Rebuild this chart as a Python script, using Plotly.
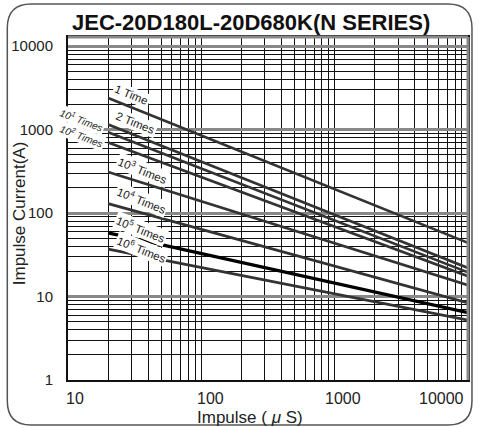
import math
import plotly.graph_objects as go

# ---------------- data ----------------
pulse_us = [20, 10000]                      # impulse width (µs), start / end of each curve
series_names = ["1 Time", "2 Times", "10<sup>1</sup> Times", "10<sup>2</sup> Times",
                "10<sup>3</sup> Times", "10<sup>4</sup> Times", "10<sup>5</sup> Times",
                "10<sup>6</sup> Times"]
i_1 = [2400, 44]
i_2 = [1150, 22]
i_1e1 = [930, 19.5]
i_1e2 = [700, 17.5]
i_1e3 = [310, 13.7]
i_1e4 = [130, 8.4]
i_1e5 = [58, 6.4]
i_1e6 = [37, 5.2]
series_values = [i_1, i_2, i_1e1, i_1e2, i_1e3, i_1e4, i_1e5, i_1e6]

# label anchor positions (data coords: µs, A)
label_x = [30, 32, 12.7, 12.7, 36.3, 35.6, 35.1, 35.6]
label_y = [2590, 1200, 1300, 836, 327, 143, 64, 37]

x_tick_vals = [10, 100, 1000, 10000]
x_tick_text = ["10", "100", "1000", "10000"]
y_tick_vals = [1, 10, 100, 1000, 10000]
y_tick_text = ["1", "10", "100", "1000", "10000"]

title_text = "JEC-20D180L-20D680K(N SERIES)"
x_title = "Impulse ( <i>μ</i> S)"
y_title = "Impulse Current(A)"

# ---------------- figure ----------------
W, H = 479, 428
ML, MR, MT, MB = 68, 9, 37, 48
PW, PH = W - ML - MR, H - MT - MB

def px_x(px):
    return (px - ML) / PW

def px_y(py):
    return (H - MB - py) / PH

fig = go.Figure()
for name, vals in zip(series_names, series_values):
    is_bold = name.startswith("10<sup>5")
    fig.add_trace(go.Scatter(
        x=pulse_us, y=vals, mode="lines", name=name,
        line=dict(color="#000000" if is_bold else "#333333", width=3.2 if is_bold else 2.7),
        showlegend=False, hoverinfo="skip"))

annotations = []
for name, lx, ly in zip(series_names, label_x, label_y):
    small = name.startswith("10<sup>1") or name.startswith("10<sup>2")
    txt = f"<i>{name}</i>" if small else name
    annotations.append(dict(
        x=math.log10(lx), y=math.log10(ly), xref="x", yref="y", text=txt,
        showarrow=False, textangle=21 if small else 22,
        font=dict(family="Liberation Sans, Arial", size=10 if small else 11.5, color="#222222"),
        bgcolor="white", borderpad=1, xanchor="center", yanchor="middle"))

# x tick labels
x_shifts = [7, 9, 8, -27]
for v, t, s in zip(x_tick_vals, x_tick_text, x_shifts):
    annotations.append(dict(
        x=math.log10(v), y=0, xref="x", yref="paper", text=t, showarrow=False,
        xshift=s, yshift=-18, xanchor="center", yanchor="middle",
        font=dict(family="Liberation Sans, Arial", size=16, color="#222222")))

# axis titles
annotations.append(dict(x=px_x(251), y=px_y(417), xref="paper", yref="paper", text=x_title,
                        showarrow=False, xanchor="center", yanchor="middle",
                        font=dict(family="Liberation Sans, Arial", size=17, color="#222222")))
annotations.append(dict(x=px_x(19), y=px_y(213), xref="paper", yref="paper", text=y_title,
                        showarrow=False, textangle=-90, xanchor="center", yanchor="middle",
                        font=dict(family="Liberation Sans, Arial", size=17, color="#222222")))
# title
annotations.append(dict(x=px_x(252), y=px_y(22), xref="paper", yref="paper",
                        text=f"<b>{title_text}</b>", showarrow=False,
                        xanchor="center", yanchor="middle",
                        font=dict(family="Liberation Sans, Arial", size=22, color="#111111")))

# rounded outer frame
L, R, T, B, r = 7, 474, 4, 425, 24
def P(a, b):
    return f"{px_x(a):.5f},{px_y(b):.5f}"
frame_path = (f"M {P(L + r, T)} L {P(R - r, T)} Q {P(R, T)} {P(R, T + r)} "
              f"L {P(R, B - r)} Q {P(R, B)} {P(R - r, B)} L {P(L + r, B)} "
              f"Q {P(L, B)} {P(L, B - r)} L {P(L, T + r)} Q {P(L, T)} {P(L + r, T)} Z")

shapes = [
    dict(type="path", path=frame_path, xref="paper", yref="paper",
         line=dict(color="#555555", width=1.5), fillcolor="rgba(0,0,0,0)", layer="below"),
    dict(type="line", x0=0, x1=1, y0=1, y1=1, xref="paper", yref="paper",
         line=dict(color="#888888", width=3)),
    dict(type="line", x0=1, x1=1, y0=0, y1=1, xref="paper", yref="paper",
         line=dict(color="#888888", width=3)),
]

fig.update_layout(
    width=W, height=H,
    margin=dict(l=ML, r=MR, t=MT, b=MB),
    paper_bgcolor="white", plot_bgcolor="white",
    annotations=annotations, shapes=shapes,
    font=dict(family="Liberation Sans, Arial", color="#222222"),
)

fig.update_xaxes(
    type="log", range=[1, 4], tickvals=x_tick_vals, showticklabels=False,
    showgrid=True, gridcolor="#111111", gridwidth=1.3,
    minor=dict(dtick="D1", showgrid=True, gridcolor="#111111", gridwidth=1, ticks=""),
    showline=True, linecolor="#111111", linewidth=2, mirror=True, ticks="", zeroline=False,
)
fig.update_yaxes(
    type="log", range=[0, 4.11], tickvals=y_tick_vals, ticktext=y_tick_text,
    tickfont=dict(family="Liberation Sans, Arial", size=15, color="#222222"),
    ticklabelstandoff=10,
    showgrid=True, gridcolor="#888888", gridwidth=2.5,
    minor=dict(dtick="D1", showgrid=True, gridcolor="#111111", gridwidth=1, ticks=""),
    showline=True, linecolor="#111111", linewidth=2, mirror=True, ticks="", zeroline=False,
)

fig.write_html("out.html", config={"displayModeBar": False},
               post_script="document.body.style.margin='0';document.body.style.overflow='hidden';")
